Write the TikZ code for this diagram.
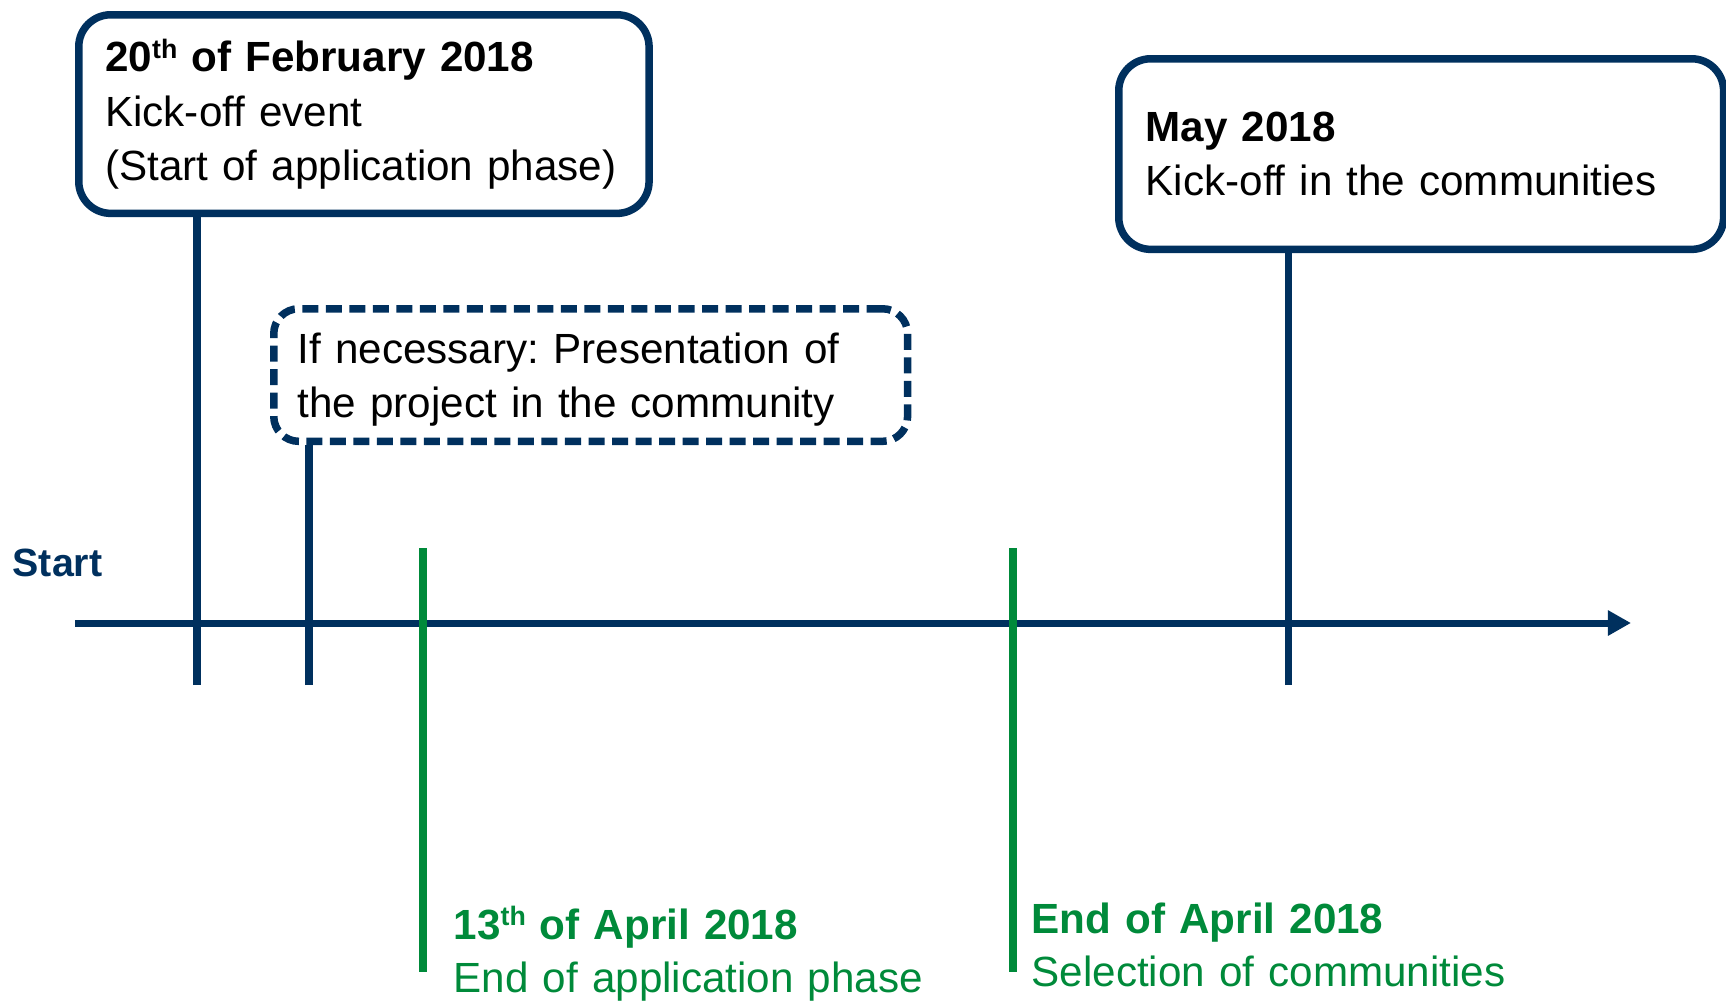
\documentclass[tikz,border=0pt]{standalone}
\usepackage{fontspec}
\setmainfont{Liberation Sans}
\usetikzlibrary{arrows.meta,positioning}
\definecolor{navy}{RGB}{0,48,94}
\definecolor{leafgreen}{RGB}{0,138,58}
\newcommand{\ordsup}[1]{\raisebox{0.32em}{\fontsize{7.6}{8}\selectfont #1}}
\tikzset{
	event/.style={draw=navy, line width=0.075cm, rounded corners=0.32cm, align=left, inner ysep=0pt, anchor=north west, font=\fontsize{12}{15.4}\selectfont\frenchspacing},
	maybe/.style={event, rounded corners=0.25cm, dash pattern=on 0.16cm off 0.075cm},
	tick/.style={navy, line width=0.07cm},
	greentick/.style={leafgreen, line width=0.075cm},
	greenlabel/.style={text=leafgreen, align=left, text width=6cm, inner sep=0pt, anchor=base west, font=\fontsize{12}{15.1}\selectfont\frenchspacing}
}

\begin{document}
\begin{tikzpicture}[x=0.01cm,y=-0.01cm]
	\useasboundingbox (0,0) rectangle (1726,1002);
	\node[event, minimum height=1.985cm, text width=5.17cm, inner xsep=0.265cm] (feb) at (75,11) {\textbf{20\ordsup{th} of February 2018}\\Kick-off event\\(Start of application phase)};
	\node[maybe, minimum height=1.325cm, text width=5.855cm, inner xsep=0.24cm, text height=0.39cm] (pres) at (270,305) {If necessary: Presentation of\\the project in the community};
	\node[event, minimum height=1.905cm, text width=5.505cm, inner xsep=0.27cm] (may) at (1115,55) {\textbf{May 2018}\\Kick-off in the communities};
	\node[anchor=base west, inner sep=0pt, text=navy, font=\fontsize{11.2}{13}\selectfont\bfseries] (start) at (12,576) {Start};
	\node[greenlabel] (apr13) at (453,939) {\textbf{13\ordsup{th} of April 2018}\\End of application phase};
	\node[greenlabel] (aprend) at (1031,933) {\textbf{End of April 2018}\\Selection of communities};
	\coordinate (axisstart) at (75,623);
	\coordinate (axisend) at (1631,623);
	\coordinate (t1) at (197,685);
	\coordinate (t2) at (309,685);
	\coordinate (t3) at (1288,685);
	\coordinate (g1) at (423,548);
	\coordinate (g1end) at (423,972);
	\coordinate (g2) at (1013,548);
	\coordinate (g2end) at (1013,972);
	\draw[tick, -{Triangle[length=0.23cm,width=0.24cm]}] (axisstart) -- (axisend);
	\draw[tick] (t1) -- (t1 |- feb.south);
	\draw[tick] (t2) -- (t2 |- pres.south);
	\draw[tick] (t3) -- (t3 |- may.south);
	\draw[greentick] (g1) -- (g1end);
	\draw[greentick] (g2) -- (g2end);
\end{tikzpicture}
\end{document}
